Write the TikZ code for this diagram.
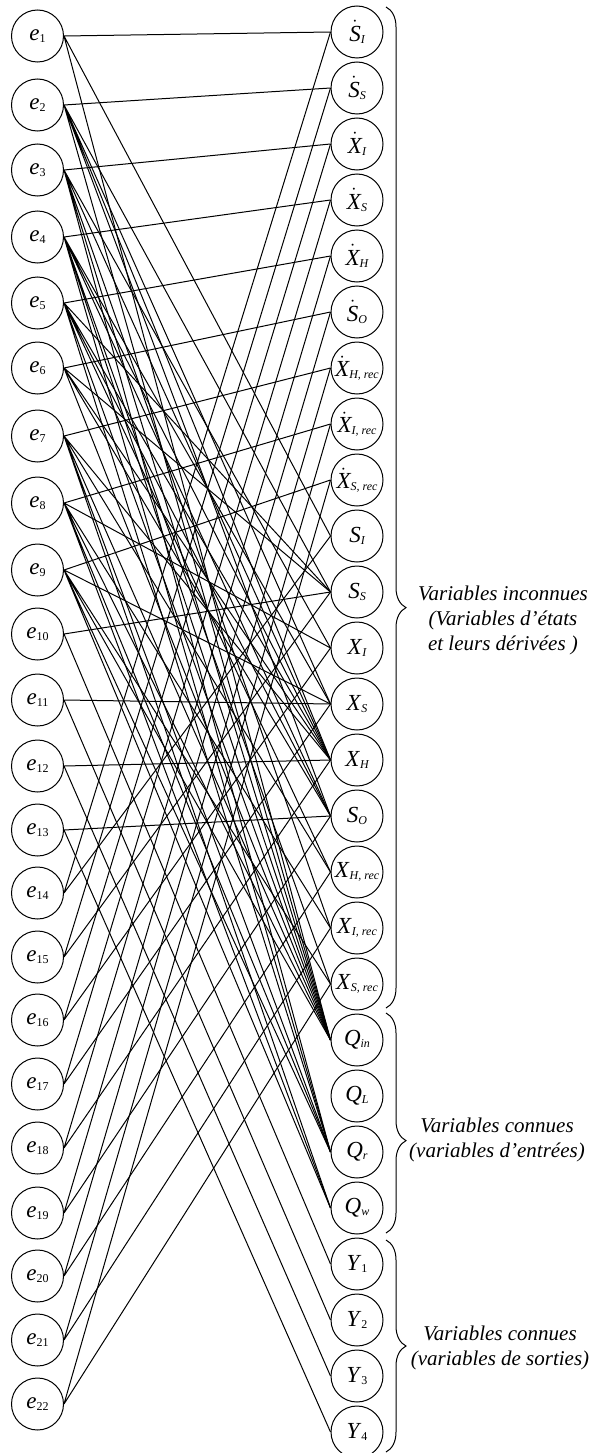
\documentclass[tikz,border=0pt]{standalone}
\usepackage{fontspec}
\setmainfont{Liberation Serif}
\usetikzlibrary{decorations.pathreplacing}

\newcommand{\bigfont}{\fontsize{21}{25}\selectfont}
\newcommand{\lblfont}{\fontsize{23}{25}\selectfont}
\newcommand{\subfont}{\fontsize{12}{13}\selectfont}
% labels: equation, variable, dotted variable, output
\newcommand{\elab}[1]{\textit{e}\raisebox{-2pt}{\subfont #1}}
\newcommand{\vlab}[2]{\textit{#1}\raisebox{-2pt}{\subfont\itshape #2}}
\newcommand{\dlab}[2]{$\dot{\hbox{\itshape #1}}$\raisebox{-2pt}{\subfont\itshape #2}}
\newcommand{\ylab}[1]{\textit{Y}\raisebox{-2pt}{\subfont #1}}

\begin{document}
\begin{tikzpicture}[x=1pt, y=-1pt,
    eqn/.style={circle, draw, line width=1pt, minimum size=52pt, inner sep=0pt, font=\lblfont},
    var/.style={circle, draw, line width=1pt, minimum size=52pt, inner sep=0pt, font=\lblfont},
    link/.style={line width=1pt},
    bracket/.style={decorate, decoration={brace, amplitude=20pt, aspect=#1}, line width=1pt},
    note/.style={align=center, font=\bigfont\itshape}]
        \useasboundingbox (0,0) rectangle (595,1453);

        % Equations
            \node[eqn] (e1) at (37.5, 36) {\elab{1}};
            \node[eqn] (e2) at (37.5, 105) {\elab{2}};
            \node[eqn] (e3) at (37.5, 170) {\elab{3}};
            \node[eqn] (e4) at (37.5, 237) {\elab{4}};
            \node[eqn] (e5) at (37.5, 303) {\elab{5}};
            \node[eqn] (e6) at (37.5, 368) {\elab{6}};
            \node[eqn] (e7) at (37.5, 436) {\elab{7}};
            \node[eqn] (e8) at (37.5, 503) {\elab{8}};
            \node[eqn] (e9) at (37.5, 570) {\elab{9}};
            \node[eqn] (e10) at (37.5, 634) {\elab{10}};
            \node[eqn] (e11) at (37.5, 700) {\elab{11}};
            \node[eqn] (e12) at (37.5, 766) {\elab{12}};
            \node[eqn] (e13) at (37.5, 830) {\elab{13}};
            \node[eqn] (e14) at (37.5, 893) {\elab{14}};
            \node[eqn] (e15) at (37.5, 957) {\elab{15}};
            \node[eqn] (e16) at (37.5, 1020) {\elab{16}};
            \node[eqn] (e17) at (37.5, 1084) {\elab{17}};
            \node[eqn] (e18) at (37.5, 1148) {\elab{18}};
            \node[eqn] (e19) at (37.5, 1213) {\elab{19}};
            \node[eqn] (e20) at (37.5, 1276) {\elab{20}};
            \node[eqn] (e21) at (37.5, 1340) {\elab{21}};
            \node[eqn] (e22) at (37.5, 1404) {\elab{22}};

            % Derivatives
            \node[var] (dSI) at (357, 32) {\dlab{S}{I}};
            \node[var] (dSS) at (357, 88) {\dlab{S}{S}};
            \node[var] (dXI) at (357, 144) {\dlab{X}{I}};
            \node[var] (dXS) at (357, 200) {\dlab{X}{S}};
            \node[var] (dXH) at (357, 256) {\dlab{X}{H}};
            \node[var] (dSO) at (357, 312) {\dlab{S}{O}};
            \node[var] (dXHr) at (357, 368) {\dlab{X}{H, rec}};
            \node[var] (dXIr) at (357, 424) {\dlab{X}{I, rec}};
            \node[var] (dXSr) at (357, 480) {\dlab{X}{S, rec}};

            % States
            \node[var] (SI) at (357, 536) {\vlab{S}{I}};
            \node[var] (SS) at (357, 592) {\vlab{S}{S}};
            \node[var] (XI) at (357, 648) {\vlab{X}{I}};
            \node[var] (XS) at (357, 704) {\vlab{X}{S}};
            \node[var] (XH) at (357, 760) {\vlab{X}{H}};
            \node[var] (SO) at (357, 816) {\vlab{S}{O}};
            \node[var] (XHr) at (357, 872) {\vlab{X}{H, rec}};
            \node[var] (XIr) at (357, 928) {\vlab{X}{I, rec}};
            \node[var] (XSr) at (357, 984) {\vlab{X}{S, rec}};

            % Inputs
            \node[var] (Qin) at (357, 1040) {\vlab{Q}{in}};
            \node[var] (QL) at (357, 1096) {\vlab{Q}{L}};
            \node[var] (Qr) at (357, 1152) {\vlab{Q}{r}};
            \node[var] (Qw) at (357, 1208) {\vlab{Q}{w}};

            % Outputs
            \node[var] (Y1) at (357, 1264) {\ylab{1}};
            \node[var] (Y2) at (357, 1320) {\ylab{2}};
            \node[var] (Y3) at (357, 1376) {\ylab{3}};
            \node[var] (Y4) at (357, 1432) {\ylab{4}};

            % Balance equations
            \draw[link] (e1.east) -- (dSI.west) (e1.east) -- (SI.west) (e1.east) -- (Qin.west);
            \draw[link] (e2.east) -- (dSS.west) (e2.east) -- (SS.west) (e2.east) -- (XS.west)
                (e2.east) -- (XH.west) (e2.east) -- (SO.west) (e2.east) -- (Qin.west);
            \draw[link] (e3.east) -- (dXI.west) (e3.east) -- (XI.west) (e3.east) -- (XH.west)
                (e3.east) -- (XIr.west) (e3.east) -- (Qin.west) (e3.east) -- (Qr.west);
            \draw[link] (e4.east) -- (dXS.west) (e4.east) -- (XS.west) (e4.east) -- (XH.west)
                (e4.east) -- (SO.west) (e4.east) -- (XSr.west) (e4.east) -- (Qin.west) (e4.east) -- (Qr.west);
            \draw[link] (e5.east) -- (dXH.west) (e5.east) -- (XH.west) (e5.east) -- (SS.west)
                (e5.east) -- (SO.west) (e5.east) -- (XHr.west) (e5.east) -- (Qin.west) (e5.east) -- (Qr.west);
            \draw[link] (e6.east) -- (dSO.west) (e6.east) -- (SO.west) (e6.east) -- (SS.west)
                (e6.east) -- (XH.west) (e6.east) -- (Qin.west);
            \draw[link] (e7.east) -- (dXHr.west) (e7.east) -- (XH.west) (e7.east) -- (XHr.west)
                (e7.east) -- (Qin.west) (e7.east) -- (Qr.west) (e7.east) -- (Qw.west);
            \draw[link] (e8.east) -- (dXIr.west) (e8.east) -- (XI.west) (e8.east) -- (XIr.west)
                (e8.east) -- (Qin.west) (e8.east) -- (Qr.west) (e8.east) -- (Qw.west);
            \draw[link] (e9.east) -- (dXSr.west) (e9.east) -- (XS.west) (e9.east) -- (XSr.west)
                (e9.east) -- (Qin.west) (e9.east) -- (Qr.west) (e9.east) -- (Qw.west);

            % Output equations
            \draw[link] (e10.east) -- (SS.west) (e10.east) -- (Y1.west);
            \draw[link] (e11.east) -- (XS.west) (e11.east) -- (Y2.west);
            \draw[link] (e12.east) -- (XH.west) (e12.east) -- (Y3.west);
            \draw[link] (e13.east) -- (SO.west) (e13.east) -- (Y4.west);

            % Derivative constraints
            \draw[link] (e14.east) -- (dSI.west) (e14.east) -- (SI.west);
            \draw[link] (e15.east) -- (dSS.west) (e15.east) -- (SS.west);
            \draw[link] (e16.east) -- (dXI.west) (e16.east) -- (XI.west);
            \draw[link] (e17.east) -- (dXS.west) (e17.east) -- (XS.west);
            \draw[link] (e18.east) -- (dXH.west) (e18.east) -- (XH.west);
            \draw[link] (e19.east) -- (dSO.west) (e19.east) -- (SO.west);
            \draw[link] (e20.east) -- (dXHr.west) (e20.east) -- (XHr.west);
            \draw[link] (e21.east) -- (dXIr.west) (e21.east) -- (XIr.west);
            \draw[link] (e22.east) -- (dXSr.west) (e22.east) -- (XSr.west);

            % Braces and labels
            \draw[bracket=0.6] (386, 7) -- (386, 1008);
            \draw[bracket=0.58] (386, 1013) -- (386, 1233);
            \draw[bracket=0.5] (386, 1240) -- (386, 1452);
            \node[note] (unknown) at (503, 620) {Variables inconnues\\(Variables d’états\\et leurs dérivées )};
            \node[note] (inputs) at (497, 1140) {Variables connues\\(variables d’entrées)};
            \node[note] (outputs) at (500, 1348) {Variables connues\\(variables de sorties)};
    \end{tikzpicture}
\end{document}
